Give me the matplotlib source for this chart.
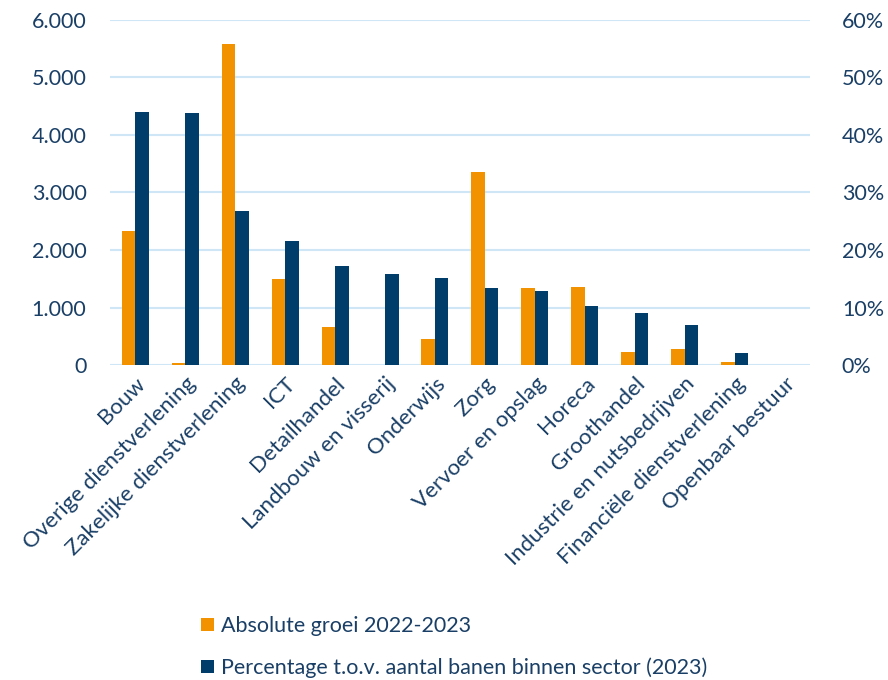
import matplotlib.pyplot as plt
import numpy as np
from matplotlib.ticker import FuncFormatter

plt.rcParams['font.family'] = ['Lato', 'DejaVu Sans']

sectors = ['Bouw', 'Overige dienstverlening', 'Zakelijke dienstverlening', 'ICT',
           'Detailhandel', 'Landbouw en visserij', 'Onderwijs', 'Zorg',
           'Vervoer en opslag', 'Horeca', 'Groothandel', 'Industrie en nutsbedrijven',
           'Financiële dienstverlening', 'Openbaar bestuur']
groei = [2330, 35, 5580, 1495, 660, 0, 455, 3360, 1340, 1360, 225, 280, 50, 0]
percentage = [44.0, 43.8, 26.8, 21.6, 17.2, 15.8, 15.1, 13.4, 12.9, 10.3, 9.0, 7.0, 2.1, 0]

orange = '#F39200'
navy = '#003D6B'
text_c = '#1A3F66'
grid_c = '#CFE6F7'

fig = plt.figure(figsize=(8.88, 6.8), dpi=100)
ax = fig.add_axes([0.124, 0.463, 0.788, 0.508])
ax2 = ax.twinx()

x = np.arange(len(sectors))
w = 0.27
ax.bar(x - w / 2, groei, w, color=orange, label='Absolute groei 2022-2023', zorder=3)
ax2.bar(x + w / 2, percentage, w, color=navy, label='Percentage t.o.v. aantal banen binnen sector (2023)', zorder=3)

ax.set_xlim(-0.5, len(sectors) - 0.5)
ax.set_ylim(0, 6000)
ax2.set_ylim(0, 60)
ax.set_yticks(np.arange(0, 6001, 1000))
ax2.set_yticks(np.arange(0, 61, 10))
ax.yaxis.set_major_formatter(FuncFormatter(lambda v, p: f'{int(v):,}'.replace(',', '.')))
ax2.yaxis.set_major_formatter(FuncFormatter(lambda v, p: f'{int(v)}%'))
ax.grid(axis='y', color=grid_c, lw=1.5, zorder=0)

fs = 15.5
for a in (ax, ax2):
    for s in a.spines.values():
        s.set_visible(False)
    a.tick_params(length=0, labelsize=fs, colors=text_c)
ax.tick_params(axis='y', pad=17)
ax2.tick_params(axis='y', pad=23)

ax.set_xticks(x)
ax.set_xticklabels(sectors, rotation=45, ha='right', rotation_mode='anchor', fontsize=16, color=text_c)
ax.tick_params(axis='x', pad=6)

h1, l1 = ax.get_legend_handles_labels()
h2, l2 = ax2.get_legend_handles_labels()
fig.legend(h1 + h2, l1 + l2, loc='upper left', bbox_to_anchor=(0.226, 0.094), frameon=False,
           fontsize=fs, labelcolor=text_c, handlelength=0.6, handleheight=0.6,
           handletextpad=0.35, labelspacing=1.0, borderaxespad=0, borderpad=0)

fig.savefig('out.png', dpi=100)
